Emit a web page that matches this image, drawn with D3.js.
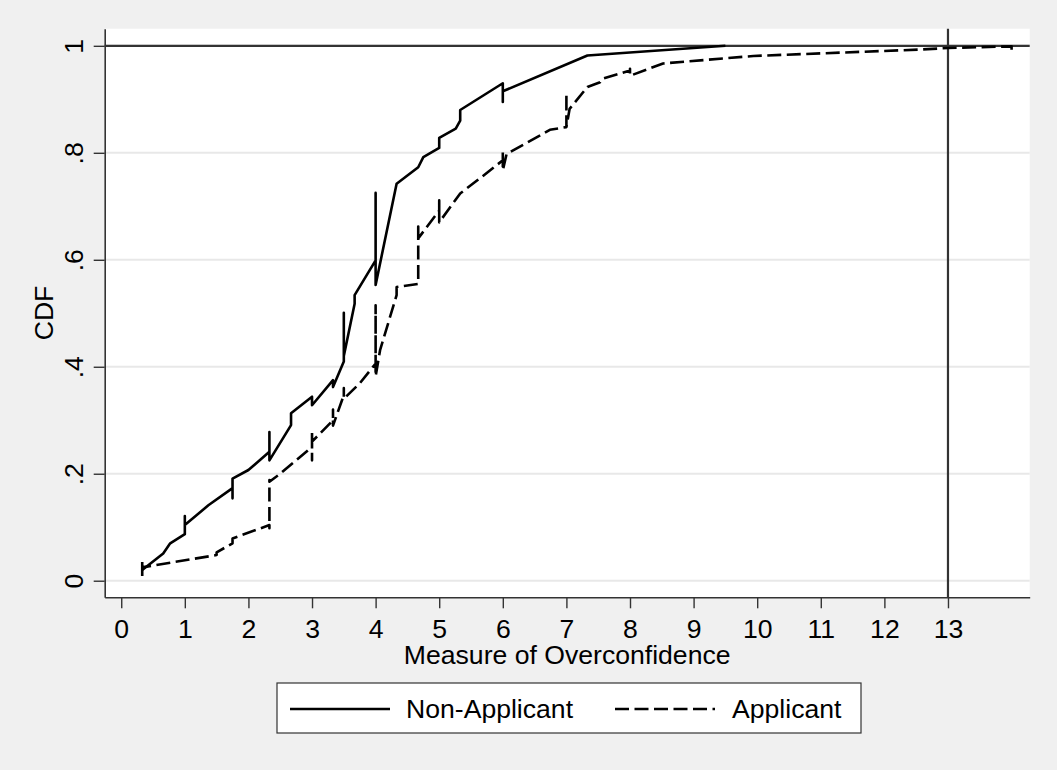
<!DOCTYPE html>
<html>
<head>
<meta charset="utf-8">
<script src="https://cdn.jsdelivr.net/npm/d3@7"></script>
<style>
  body { margin: 0; background: #f0f0f0; }
  svg { display: block; font-family: "Liberation Sans", Arial, sans-serif; }
</style>
</head>
<body>
<div id="plot"></div>
<script>
// tick values and labels
const xTicks = [0, 1, 2, 3, 4, 5, 6, 7, 8, 9, 10, 11, 12, 13];
const xTickLabels = ["0", "1", "2", "3", "4", "5", "6", "7", "8", "9", "10", "11", "12", "13"];
const yTicks = [0, 0.2, 0.4, 0.6, 0.8, 1];
const yTickLabels = ["0", ".2", ".4", ".6", ".8", "1"];

// reference lines
const xLine = 13;
const yLine = 1;

// CDF traces, [measure, cdf], in plotting order (ties give the vertical jags)
const nonApplicant = [
  [0.33, 0.02], [0.66, 0.051], [0.77, 0.07], [1.0, 0.087], [1.0, 0.121], [1.0, 0.104],
  [1.37, 0.141], [1.75, 0.173], [1.75, 0.154], [1.75, 0.191], [2.0, 0.207],
  [2.33, 0.241], [2.33, 0.278], [2.33, 0.225], [2.67, 0.291], [2.67, 0.313],
  [3.0, 0.344], [3.0, 0.328], [3.33, 0.375], [3.33, 0.362], [3.5, 0.41],
  [3.5, 0.501], [3.5, 0.42], [3.67, 0.518], [3.67, 0.534], [4.0, 0.599],
  [4.0, 0.725], [4.0, 0.553], [4.33, 0.742], [4.67, 0.773], [4.75, 0.792],
  [5.0, 0.809], [5.0, 0.828], [5.26, 0.845], [5.33, 0.86], [5.33, 0.88],
  [6.0, 0.93], [6.0, 0.895], [6.0, 0.915], [7.33, 0.982], [9.5, 1.0]
];

const applicant = [
  [0.33, 0.035], [0.33, 0.007], [0.33, 0.025], [1.5, 0.048], [1.5, 0.053],
  [1.75, 0.07], [1.75, 0.079], [2.33, 0.104], [2.33, 0.098], [2.33, 0.188],
  [2.33, 0.185], [2.5, 0.2], [3.0, 0.25], [3.0, 0.281], [3.0, 0.225],
  [3.0, 0.26], [3.33, 0.3], [3.33, 0.32], [3.33, 0.29], [3.5, 0.347],
  [3.5, 0.36], [3.5, 0.34], [3.75, 0.369], [4.0, 0.406], [4.0, 0.515],
  [4.0, 0.382], [4.07, 0.431], [4.33, 0.534], [4.33, 0.549], [4.67, 0.555],
  [4.67, 0.662], [4.67, 0.64], [5.0, 0.692], [5.0, 0.711], [5.0, 0.67],
  [5.33, 0.724], [5.67, 0.755], [6.0, 0.786], [6.0, 0.805], [6.0, 0.767],
  [6.06, 0.798], [6.58, 0.832], [6.74, 0.843], [7.0, 0.848], [7.0, 0.911],
  [7.0, 0.848], [7.05, 0.882], [7.33, 0.923], [7.53, 0.932], [7.56, 0.938],
  [8.0, 0.954], [8.0, 0.957], [8.0, 0.944], [8.52, 0.967], [9.94, 0.981],
  [12.56, 0.993], [13.0, 0.996], [14.0, 0.999], [14.0, 0.992], [14.0, 1.0]
];

const legendLabels = ["Non-Applicant", "Applicant"];

const width = 1057, height = 770;
const plot = {left: 104.7, right: 1029.7, top: 28.7, bottom: 597.3};
const fontSize = 26.6;

const svg = d3.select("#plot").append("svg")
  .attr("width", width)
  .attr("height", height);

svg.append("rect")
  .attr("width", width).attr("height", height)
  .attr("fill", "#f0f0f0");

svg.append("rect")
  .attr("x", plot.left).attr("y", plot.top)
  .attr("width", plot.right - plot.left)
  .attr("height", plot.bottom - plot.top)
  .attr("fill", "#ffffff");

const x = d3.scaleLinear().domain([-0.26, 14.285]).range([plot.left, plot.right]);
const y = d3.scaleLinear().domain([-0.031, 1.032]).range([plot.bottom, plot.top]);

// grid
svg.append("g").selectAll("line")
  .data(yTicks)
  .join("line")
    .attr("x1", plot.left).attr("x2", plot.right)
    .attr("y1", d => y(d)).attr("y2", d => y(d))
    .attr("stroke", "#e8e8e8")
    .attr("stroke-width", 2);

// reference lines
svg.append("line")
  .attr("x1", plot.left).attr("x2", plot.right)
  .attr("y1", y(yLine)).attr("y2", y(yLine))
  .attr("stroke", "#333").attr("stroke-width", 2.2);
svg.append("line")
  .attr("x1", x(xLine)).attr("x2", x(xLine))
  .attr("y1", plot.top).attr("y2", plot.bottom)
  .attr("stroke", "#333").attr("stroke-width", 2.2);

// curves
const line = d3.line().x(d => x(d[0])).y(d => y(d[1]));

svg.append("path")
  .datum(nonApplicant)
  .attr("d", line)
  .attr("fill", "none")
  .attr("stroke", "#000")
  .attr("stroke-width", 2.6)
  .attr("stroke-linejoin", "round");

svg.append("path")
  .datum(applicant)
  .attr("d", line)
  .attr("fill", "none")
  .attr("stroke", "#000")
  .attr("stroke-width", 2.6)
  .attr("stroke-linejoin", "round")
  .attr("stroke-dasharray", "14,5.5");

// axes
const xAxis = svg.append("g")
  .attr("transform", `translate(0,${plot.bottom})`)
  .call(d3.axisBottom(x)
    .tickValues(xTicks)
    .tickFormat((d, i) => xTickLabels[i])
    .tickSize(11)
    .tickSizeOuter(0));

xAxis.selectAll("text")
  .attr("y", 0).attr("dy", 0)
  .attr("transform", "translate(0,41)")
  .style("font-size", fontSize + "px")
  .attr("fill", "#000");

const yAxis = svg.append("g")
  .attr("transform", `translate(${plot.left},0)`)
  .call(d3.axisLeft(y)
    .tickValues(yTicks)
    .tickFormat((d, i) => yTickLabels[i])
    .tickSize(11)
    .tickSizeOuter(0));

yAxis.selectAll("text")
  .attr("x", 0).attr("y", -21.7).attr("dy", 0)
  .attr("transform", "rotate(-90)")
  .attr("text-anchor", "middle")
  .style("font-size", fontSize + "px")
  .attr("fill", "#000");

svg.selectAll(".domain").attr("stroke", "#333").attr("stroke-width", 1.6);
svg.selectAll(".tick line").attr("stroke", "#333").attr("stroke-width", 1.4);

// axis titles
svg.append("text")
  .attr("x", (plot.left + plot.right) / 2)
  .attr("y", 664)
  .attr("text-anchor", "middle")
  .style("font-size", fontSize + "px")
  .text("Measure of Overconfidence");

svg.append("text")
  .attr("transform", `translate(53,${(plot.top + plot.bottom) / 2}) rotate(-90)`)
  .attr("text-anchor", "middle")
  .style("font-size", fontSize + "px")
  .text("CDF");

// legend
const legend = svg.append("g").attr("transform", "translate(277,683)");
legend.append("rect")
  .attr("width", 584).attr("height", 50)
  .attr("fill", "#fff")
  .attr("stroke", "#333").attr("stroke-width", 1.2);

const keys = [
  {label: legendLabels[0], dash: null, x0: 13, tx: 129},
  {label: legendLabels[1], dash: "14,5.5", x0: 338, tx: 455}
];
keys.forEach(k => {
  legend.append("line")
    .attr("x1", k.x0).attr("x2", k.x0 + 100)
    .attr("y1", 26).attr("y2", 26)
    .attr("stroke", "#000").attr("stroke-width", 2.5)
    .attr("stroke-dasharray", k.dash);
  legend.append("text")
    .attr("x", k.tx).attr("y", 35)
    .style("font-size", fontSize + "px")
    .text(k.label);
});
</script>
</body>
</html>
